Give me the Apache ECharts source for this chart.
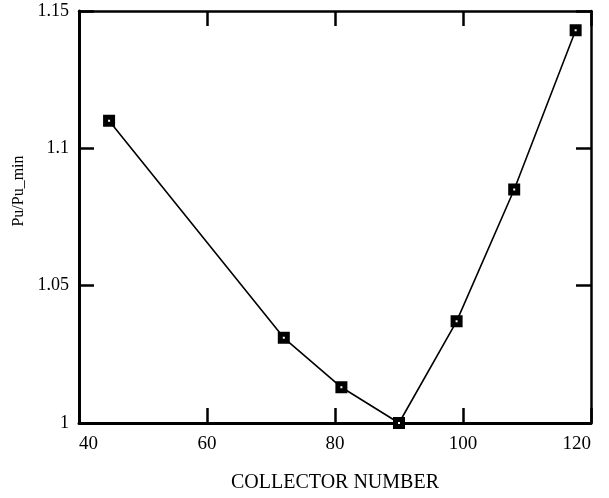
<!DOCTYPE html>
<html>
<head>
<meta charset="utf-8">
<script src="https://cdn.jsdelivr.net/npm/echarts@6/dist/echarts.min.js"></script>
<style>
html,body{margin:0;padding:0;background:#fff;}
#c{width:609px;height:498px;}
</style>
</head>
<body>
<div id="c"></div>
<script>
var collectors = [44.7, 72, 81, 90, 99, 108, 117.6];
var ratios = [1.110, 1.031, 1.013, 1.000, 1.037, 1.085, 1.143];
var xTitle = 'COLLECTOR NUMBER';
var yTitle = 'Pu/Pu_min';

var points = collectors.map(function (x, i) { return [x, ratios[i]]; });
var font = 'Liberation Serif';

var chart = echarts.init(document.getElementById('c'), null, {renderer: 'canvas'});
chart.setOption({
  animation: false,
  backgroundColor: '#fff',
  grid: {left: 79, right: 18, top: 11, bottom: 69, containLabel: false},
  xAxis: [{
    type: 'value', min: 40, max: 120, interval: 20, position: 'bottom',
    name: xTitle, nameLocation: 'middle', nameGap: 50,
    nameTextStyle: {fontFamily: font, fontSize: 20, color: '#000'},
    axisLine: {show: true, lineStyle: {color: '#000', width: 3}},
    axisTick: {show: true, inside: true, length: 15, lineStyle: {color: '#000', width: 2.5}},
    axisLabel: {fontFamily: font, fontSize: 19, color: '#000', margin: 12, alignMinLabel: 'left', alignMaxLabel: 'right'},
    splitLine: {show: false}
  }, {
    type: 'value', min: 40, max: 120, interval: 20, position: 'top',
    axisLine: {show: true, lineStyle: {color: '#000', width: 2.5}},
    axisTick: {show: true, inside: true, length: 15, lineStyle: {color: '#000', width: 2.5}},
    axisLabel: {show: false},
    splitLine: {show: false}
  }],
  yAxis: [{
    type: 'value', min: 1, max: 1.15, interval: 0.05, position: 'left',
    name: yTitle, nameLocation: 'middle', nameGap: 45, nameRotate: 90,
    nameTextStyle: {fontFamily: font, fontSize: 16, color: '#000', padding: [0, 0, 0, 52]},
    axisLine: {show: true, lineStyle: {color: '#000', width: 3}},
    axisTick: {show: true, inside: true, length: 15, lineStyle: {color: '#000', width: 2.5}},
    axisLabel: {fontFamily: font, fontSize: 18, color: '#000', margin: 10, padding: [8, 0, 0, 0]},
    splitLine: {show: false}
  }, {
    type: 'value', min: 1, max: 1.15, interval: 0.05, position: 'right',
    axisLine: {show: true, lineStyle: {color: '#000', width: 2.5}},
    axisTick: {show: true, inside: true, length: 15, lineStyle: {color: '#000', width: 2.5}},
    axisLabel: {show: false},
    splitLine: {show: false}
  }],
  series: [{
    type: 'line',
    xAxisIndex: 0, yAxisIndex: 0,
    data: points,
    symbol: 'rect',
    symbolSize: 7,
    itemStyle: {color: '#fff', borderColor: '#000', borderWidth: 5},
    lineStyle: {color: '#000', width: 1.6},
    clip: false
  }]
});
</script>
</body>
</html>
